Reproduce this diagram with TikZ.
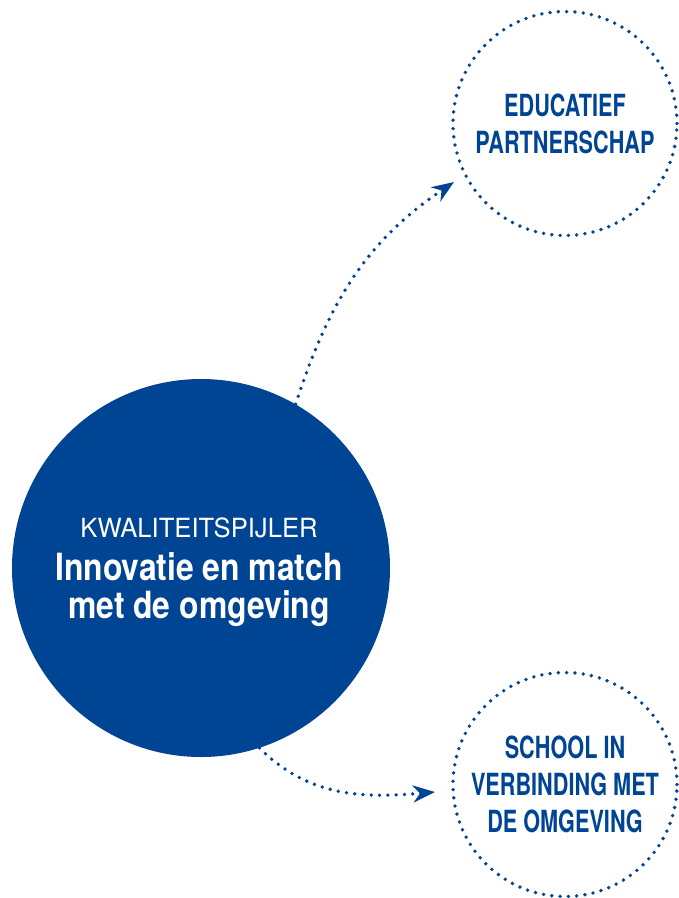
\documentclass[tikz,border=0pt]{standalone}
\usepackage{fontspec}
\setmainfont{TeX Gyre Heros}
\newfontfamily\capfont{TeX Gyre Heros}[FakeStretch=0.71]
\newfontfamily\mainbold{TeX Gyre Heros}[FakeStretch=0.85]
\newfontfamily\lightfont{TeX Gyre Heros}[FakeStretch=0.97]
\usetikzlibrary{arrows.meta}
\definecolor{kblue}{RGB}{0,68,148}
\tikzset{
  dotline/.style={draw=kblue, line width=3.8pt, line cap=round, dash pattern=on 0pt off 8.3pt},
  bigcircle/.style={circle, fill=kblue, inner sep=0pt, minimum size=378pt},
  smallcircle/.style={circle, dotline, inner sep=0pt, minimum size=224pt, align=center,
     text=kblue, font=\capfont\bfseries\fontsize{30.5}{37}\selectfont},
  tipstyle/.style={-{Stealth[length=22pt,width=17pt,inset=7pt]}},
  whitetext/.style={text=white, inner sep=0pt, anchor=base}
}
\begin{document}
\begin{tikzpicture}[x=1pt,y=1pt]
\useasboundingbox (0,0) rectangle (679,-898);
\node[bigcircle] (big) at (201,-568) {};
\node[whitetext, font=\lightfont\fontsize{26.4}{30}\selectfont] (t1) at (199,-537) {KWALITEITSPIJLER};
\node[whitetext, font=\mainbold\bfseries\fontsize{37.5}{40}\selectfont] (t2) at (199,-580) {Innovatie en match};
\node[whitetext, font=\mainbold\bfseries\fontsize{37.5}{40}\selectfont] (t3) at (199,-618) {met de omgeving};
\node[smallcircle] (edu) at (565,-123.5) {EDUCATIEF\\PARTNERSCHAP};
\node[smallcircle] (school) at (565,-784.5) {SCHOOL IN\\VERBINDING MET\\DE OMGEVING};
\coordinate (tipA) at (454,-182);
\coordinate (tipB) at (435,-792);
\draw[dotline, tipstyle] (big.60) to[out=72,in=214] (tipA);
\draw[dotline, tipstyle] (big.-72) to[out=-45,in=185] (tipB);
\end{tikzpicture}
\end{document}
